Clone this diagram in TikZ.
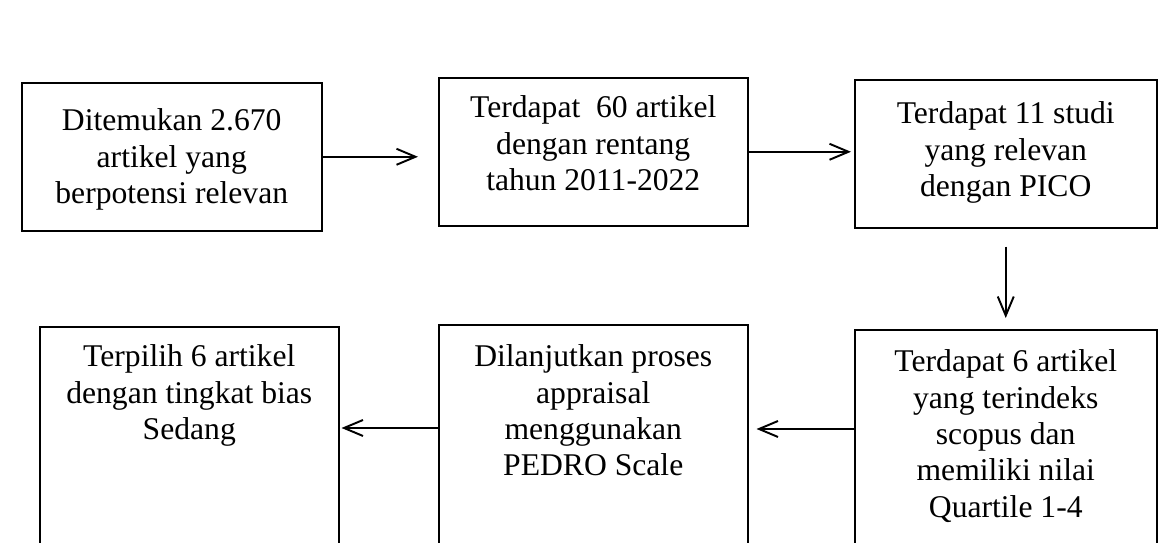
\documentclass[tikz,border=0pt]{standalone}
\usepackage{fontspec}
\setmainfont{Liberation Serif}
\usetikzlibrary{arrows.meta, positioning}
\tikzset{
  stepbox/.style={rectangle, draw=black, fill=white, line width=0.9pt, inner sep=0pt, anchor=north west},
  arrow/.style={-{Straight Barb[length=3.8mm, width=3.2mm, line width=1.1pt]}, line width=1.1pt}
}
% width, height, first baseline, text
\newcommand{\boxtext}[4]{\parbox[c][#2][t]{#1}{\centering\fontsize{18}{20.7}\selectfont\rule{0pt}{#3}#4}}

\begin{document}
\begin{tikzpicture}[x=0.02cm, y=0.02cm]
  \useasboundingbox (0,0) rectangle (1161,-542);
  \clip (0,0) rectangle (1161,-542);

  % Top row
  \node[stepbox] (found) at (21,-82) {\boxtext{6cm}{2.96cm}{0.96cm}{Ditemukan 2.670\\ artikel yang\\ berpotensi relevan}};
  \node[stepbox] (range) at (438,-77) {\boxtext{6.18cm}{2.96cm}{0.8cm}{Terdapat~ 60 artikel\\ dengan rentang\\ tahun 2011-2022}};
  \node[stepbox] (pico) at (854,-79) {\boxtext{6.04cm}{2.96cm}{0.88cm}{Terdapat 11 studi\\ yang relevan\\ dengan PICO}};

  % Bottom row
  \node[stepbox] (scopus) at (854,-329) {\boxtext{6.04cm}{5.2cm}{0.84cm}{Terdapat 6 artikel\\ yang terindeks\\ scopus dan\\ memiliki nilai\\ Quartile 1-4}};
  \node[stepbox] (appr) at (438,-324) {\boxtext{6.18cm}{5.2cm}{0.84cm}{Dilanjutkan proses\\ appraisal\\ menggunakan\\ PEDRO Scale}};
  \node[stepbox] (chosen) at (39,-326) {\boxtext{5.98cm}{5.2cm}{0.8cm}{Terpilih 6 artikel\\ dengan tingkat bias\\ Sedang}};

  % Arrows
  \draw[arrow, shorten >=0.4cm] (found.east) -- (found.east -| range.west);
  \draw[arrow, shorten >=0.06cm] (range.east) -- (range.east -| pico.west);
  \draw[arrow, shorten <=0.36cm, shorten >=0.22cm] (pico.south) -- (pico.south |- scopus.north);
  \coordinate (s4) at ([yshift=-2cm]scopus.north west);
  \draw[arrow, shorten >=0.16cm] (s4) -- (s4 -| appr.east);
  \coordinate (s5) at ([yshift=-2.08cm]appr.north west);
  \draw[arrow, shorten >=0.04cm] (s5) -- (s5 -| chosen.east);
\end{tikzpicture}
\end{document}
